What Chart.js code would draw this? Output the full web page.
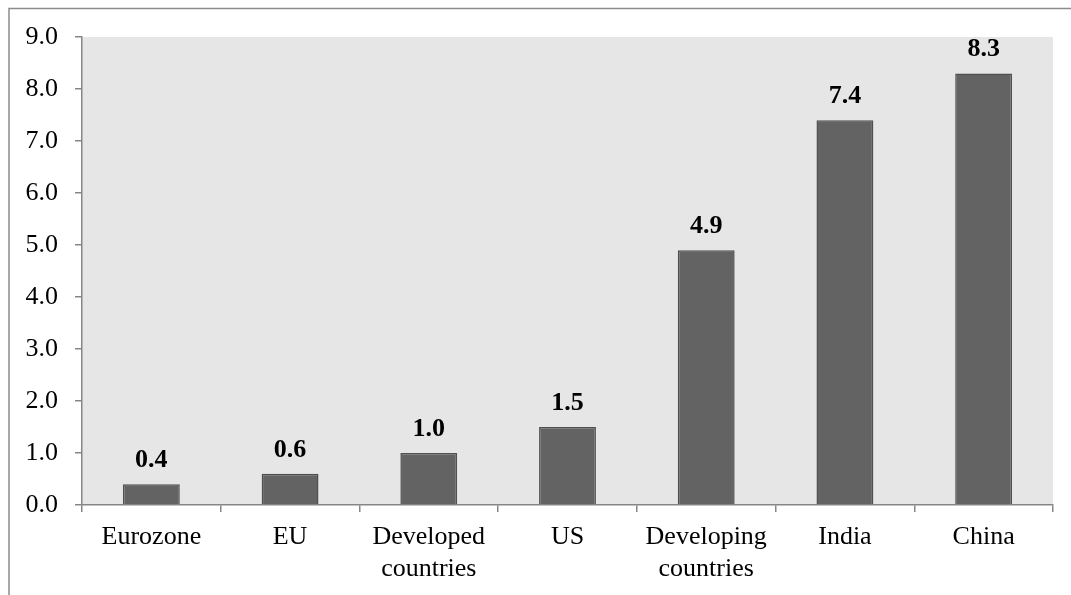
<!DOCTYPE html>
<html>
<head>
<title>growth chart</title>
<script src="https://cdn.jsdelivr.net/npm/chart.js"></script>
<style>
  body { margin: 0; background: #fff; }
  #box { width: 1071px; height: 595px; position: relative; }
</style>
</head>
<body>
<div id="box">
  <canvas id="growthChart"></canvas>
</div>
<script>
// values
const categories = ['Eurozone', 'EU', ['Developed', 'countries'], 'US', ['Developing', 'countries'], 'India', 'China'];
const growth = [0.4, 0.6, 1.0, 1.5, 4.9, 7.4, 8.3];
const yTicks = [0, 1, 2, 3, 4, 5, 6, 7, 8, 9];

const fontName = '"Liberation Serif", "Times New Roman", serif';

// grey plot background + outer frame
const frame = {
  id: 'frame',
  beforeDraw(chart) {
    const c = chart.ctx, a = chart.chartArea;
    c.save();
    c.fillStyle = '#e6e6e6';
    c.fillRect(a.left, a.top, a.right - a.left, a.bottom - a.top);
    c.restore();
  },
  afterDraw(chart) {
    const c = chart.ctx;
    c.save();
    c.strokeStyle = '#8c8c8c';
    c.lineWidth = 1.5;
    c.beginPath();
    c.moveTo(9, 595);
    c.lineTo(9, 8.5);
    c.lineTo(1071, 8.5);
    c.stroke();
    c.restore();
  }
};

// value labels above the bars
const barLabels = {
  id: 'barLabels',
  afterDatasetsDraw(chart) {
    const c = chart.ctx;
    const meta = chart.getDatasetMeta(0);
    c.save();
    c.font = 'bold 26px ' + fontName;
    c.fillStyle = '#000';
    c.textAlign = 'center';
    c.textBaseline = 'alphabetic';
    meta.data.forEach((bar, i) => {
      c.fillText(growth[i].toFixed(1), bar.x, bar.y - 17);
    });
    c.restore();
  }
};

new Chart(document.getElementById('growthChart'), {
  type: 'bar',
  data: {
    labels: categories,
    datasets: [{
      data: growth,
      backgroundColor: '#636363',
      borderColor: '#505050',
      borderWidth: 1.5,
      barPercentage: 0.82,
      categoryPercentage: 0.5
    }]
  },
  options: {
    responsive: true,
    maintainAspectRatio: false,
    animation: false,
    layout: { padding: { left: 0, top: 37, right: 18, bottom: 0 } },
    plugins: {
      legend: { display: false },
      tooltip: { enabled: false }
    },
    scales: {
      x: {
        afterFit: s => { s.height = 90; },
        border: { color: '#868686', width: 1.5 },
        grid: { offset: true, drawOnChartArea: false, tickLength: 7, color: '#868686', lineWidth: 1.5 },
        ticks: {
          color: '#000',
          padding: 10,
          maxRotation: 0,
          autoSkip: false,
          font: { family: fontName, size: 26, lineHeight: 1.2 }
        }
      },
      y: {
        min: 0,
        max: 9,
        afterFit: s => { s.width = 82; },
        afterBuildTicks: s => { s.ticks = yTicks.map(v => ({ value: v })); },
        border: { color: '#868686', width: 1.5 },
        grid: { drawOnChartArea: false, tickLength: 7, color: '#868686', lineWidth: 1.5 },
        ticks: {
          color: '#000',
          padding: 17,
          font: { family: fontName, size: 26 },
          callback: v => v.toFixed(1)
        }
      }
    }
  },
  plugins: [frame, barLabels]
});
</script>
</body>
</html>
